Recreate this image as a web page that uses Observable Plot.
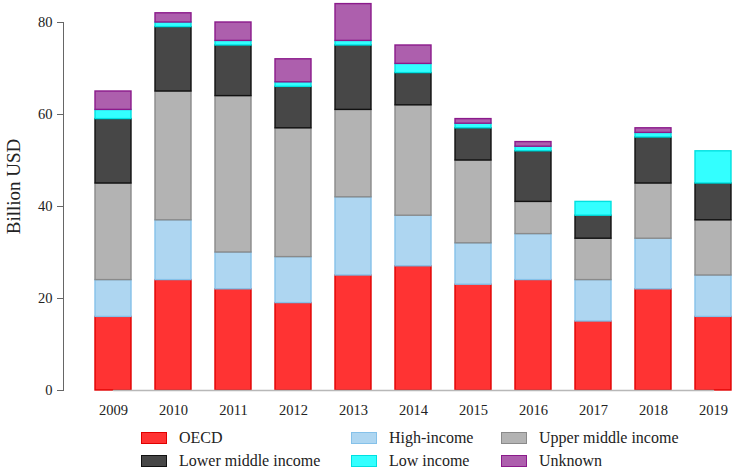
<!DOCTYPE html>
<html><head><meta charset="utf-8">
<script src="https://cdn.jsdelivr.net/npm/d3@7"></script>
<script src="https://cdn.jsdelivr.net/npm/@observablehq/plot@0.6"></script>
<style>
body{margin:0;background:#fff;font-family:"Liberation Serif",serif;}
#wrap{position:relative;width:738px;height:472px;overflow:hidden;background:#fff;}
#legend{display:grid;grid-template-columns:210px 150px auto;padding-left:141px;padding-top:7px;}
.item{display:flex;align-items:center;height:22.7px;font-size:16px;color:#222;}
.sw{width:26px;height:12px;box-sizing:border-box;border:1.5px solid;margin-right:12px;}
</style>
</head><body>
<div id="wrap"><div id="chart"></div><div id="legend"></div></div>
<script>
const years = ["2009","2010","2011","2012","2013","2014","2015","2016","2017","2018","2019"];
const series = ["OECD","High-income","Upper middle income","Lower middle income","Low income","Unknown"];
const oecd       = [16, 24, 22, 19, 25, 27, 23, 24, 15, 22, 16];
const highIncome = [ 8, 13,  8, 10, 17, 11,  9, 10,  9, 11,  9];
const upperMid   = [21, 28, 34, 28, 19, 24, 18,  7,  9, 12, 12];
const lowerMid   = [14, 14, 11,  9, 14,  7,  7, 11,  5, 10,  8];
const lowIncome  = [ 2,  1,  1,  1,  1,  2,  1,  1,  3,  1,  7];
const unknown    = [ 4,  2,  4,  5,  8,  4,  1,  1,  0,  1,  0];
const yTicks = [0, 20, 40, 60, 80];

const fillColors   = ["#ff3333","#aed6f1","#b3b3b3","#474747","#33ffff","#ad5fad"];
const strokeColors = ["#e00000","#85c1e9","#8a8a8a","#111111","#00e0e0","#8b1a8b"];
const legendOrder = ["OECD","High-income","Upper middle income","Lower middle income","Low income","Unknown"];

const valuesBySeries = [oecd, highIncome, upperMid, lowerMid, lowIncome, unknown];
const fillOf = Object.fromEntries(series.map((s,i)=>[s, fillColors[i]]));
const strokeOf = Object.fromEntries(series.map((s,i)=>[s, strokeColors[i]]));
const rows = years.flatMap((yr,i)=>series.map((s,j)=>({year:yr, series:s, value:valuesBySeries[j][i]}))).filter(d=>d.value>0);
const spine = [{year: years[0], v: 0}, {year: years[years.length-1], v: 0}];

const chart = Plot.plot({
  width: 738, height: 420,
  marginLeft: 63, marginRight: 0, marginTop: 22, marginBottom: 30,
  style: {fontFamily: "'Liberation Serif', serif", fontSize: "14.5px", color: "#222", background: "#fff"},
  x: {domain: years, range: [63, 763.6], paddingInner: 0.4, paddingOuter: 0.443, label: null},
  y: {domain: [0, 80], label: null},
  color: {type: "identity"},
  marks: [
    Plot.barY(rows, {x: "year", y: "value", z: "series", order: series,
      fill: d => fillOf[d.series], stroke: d => strokeOf[d.series], strokeWidth: 1.4}),
    Plot.lineY(spine, {x: "year", y: "v", stroke: "#b8b8b8", strokeWidth: 1.5}),
    Plot.frame({anchor: "left", stroke: "#666"}),
    Plot.axisY({ticks: yTicks, tickSize: 6, tickPadding: 5, label: null, stroke: "#666"}),
    Plot.axisX({tickSize: 0, tickPadding: 14, label: null}),
    Plot.text(["Billion USD"], {frameAnchor: "left", textAnchor: "middle", rotate: -90, dx: -50, dy: -20, fontSize: 19})
  ]
});
document.getElementById("chart").appendChild(chart);

const legend = document.getElementById("legend");
for (const s of legendOrder) {
  const it = document.createElement("div"); it.className = "item";
  const sw = document.createElement("span"); sw.className = "sw";
  sw.style.background = fillOf[s]; sw.style.borderColor = strokeOf[s];
  const t = document.createElement("span"); t.textContent = s;
  it.appendChild(sw); it.appendChild(t); legend.appendChild(it);
}
</script>
</body></html>
